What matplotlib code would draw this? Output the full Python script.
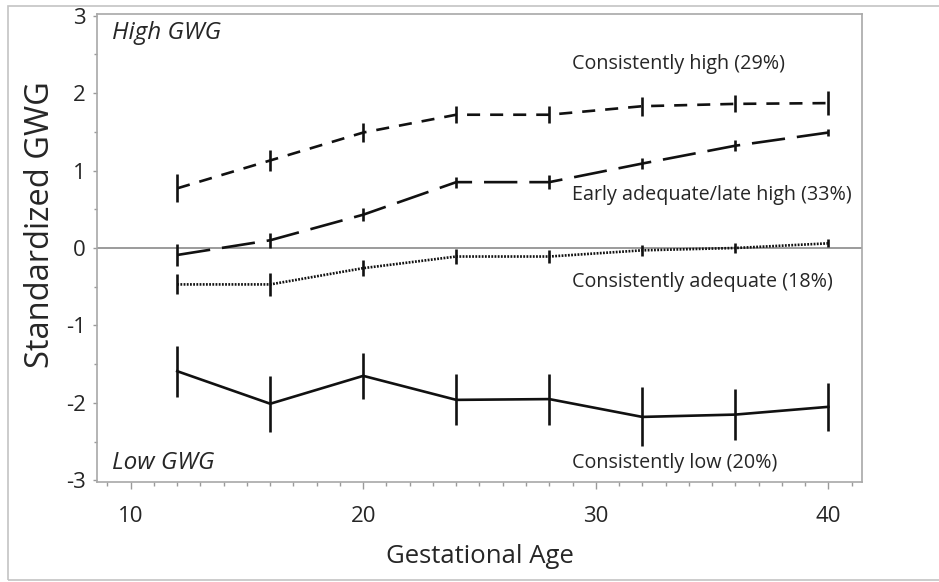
import matplotlib
matplotlib.use("Agg")
import matplotlib.pyplot as plt
from matplotlib.patches import Rectangle
from matplotlib.ticker import MultipleLocator

plt.rcParams['font.family'] = ['Open Sans', 'DejaVu Sans']
plt.rcParams['lines.scale_dashes'] = False
plt.rcParams['axes.unicode_minus'] = False

# gestational age (weeks)
ages = [12, 16, 20, 24, 28, 32, 36, 40]

# standardized GWG means and half-width of the error bars, by trajectory group
high_mean = [0.77, 1.13, 1.49, 1.72, 1.72, 1.83, 1.86, 1.87]
high_err = [0.18, 0.13, 0.12, 0.11, 0.11, 0.12, 0.11, 0.15]

early_mean = [-0.09, 0.10, 0.43, 0.85, 0.85, 1.09, 1.32, 1.49]
early_err = [0.14, 0.10, 0.08, 0.07, 0.09, 0.07, 0.07, 0.05]

adeq_mean = [-0.47, -0.47, -0.26, -0.11, -0.11, -0.03, 0.00, 0.06]
adeq_err = [0.13, 0.15, 0.10, 0.10, 0.08, 0.07, 0.06, 0.05]

low_mean = [-1.59, -2.01, -1.65, -1.96, -1.95, -2.18, -2.15, -2.05]
low_err = [0.33, 0.36, 0.30, 0.33, 0.33, 0.38, 0.33, 0.31]

group_labels = ['Consistently high (29%)', 'Early adequate/late high (33%)',
                'Consistently adequate (18%)', 'Consistently low (20%)']
label_y = [2.37, 0.68, -0.44, -2.78]

fig = plt.figure(figsize=(9.39, 5.82), dpi=100)
fig.patches.append(Rectangle((8 / 939, 2 / 582), 1.0, 574 / 582, transform=fig.transFigure,
                             fill=False, edgecolor='#c4c4c4', linewidth=1.2))
ax = fig.add_axes([97 / 939, 1 - 482 / 582, 765 / 939, 468 / 582])

ax.axhline(0, color='#8a8a8a', linewidth=1.2, zorder=1)

styles = [(0, (9.4, 7.2)), (0, (24, 8.6)), (0, (1.3, 1.0)), '-']
means = [high_mean, early_mean, adeq_mean, low_mean]
errs = [high_err, early_err, adeq_err, low_err]
for m, e, ls in zip(means, errs, styles):
    ax.plot(ages, m, color='#111111', linestyle=ls, linewidth=1.9, zorder=3)
    ax.errorbar(ages, m, yerr=e, fmt='none', ecolor='#111111', elinewidth=1.9,
                capsize=0, zorder=3)

for lab, y in zip(group_labels, label_y):
    ax.text(28.98, y, lab, fontsize=14.2, color='#262626', va='center', ha='left')

ax.text(9.2, 2.78, 'High GWG', fontsize=17.5, style='italic', color='#262626', va='center')
ax.text(9.2, -2.78, 'Low GWG', fontsize=17.5, style='italic', color='#262626', va='center')

ax.set_xlim(8.55, 41.45)
ax.set_ylim(-3.02, 3.02)
ax.xaxis.set_major_locator(MultipleLocator(10))
ax.xaxis.set_minor_locator(MultipleLocator(1))
ax.yaxis.set_major_locator(MultipleLocator(1))
ax.yaxis.set_minor_locator(MultipleLocator(0.5))
ax.tick_params(axis='both', which='both', colors='#9a9a9a', labelcolor='#262626',
               labelsize=16, width=1)
ax.tick_params(axis='x', which='major', length=5, pad=12)
ax.tick_params(axis='x', which='minor', length=3)
ax.tick_params(axis='y', which='major', length=3, pad=5)
ax.tick_params(axis='y', which='minor', length=2)
for s in ax.spines.values():
    s.set_color('#a8a8a8')
    s.set_linewidth(1.2)

ax.set_xlabel('Gestational Age', fontsize=18.5, color='#262626')
ax.xaxis.set_label_coords(0.5, -0.133)
ax.set_ylabel('Standardized GWG', fontsize=23.5, color='#262626', va='center')
ax.yaxis.set_label_coords(-0.074, 0.55)

fig.savefig('out.png', dpi=100)
